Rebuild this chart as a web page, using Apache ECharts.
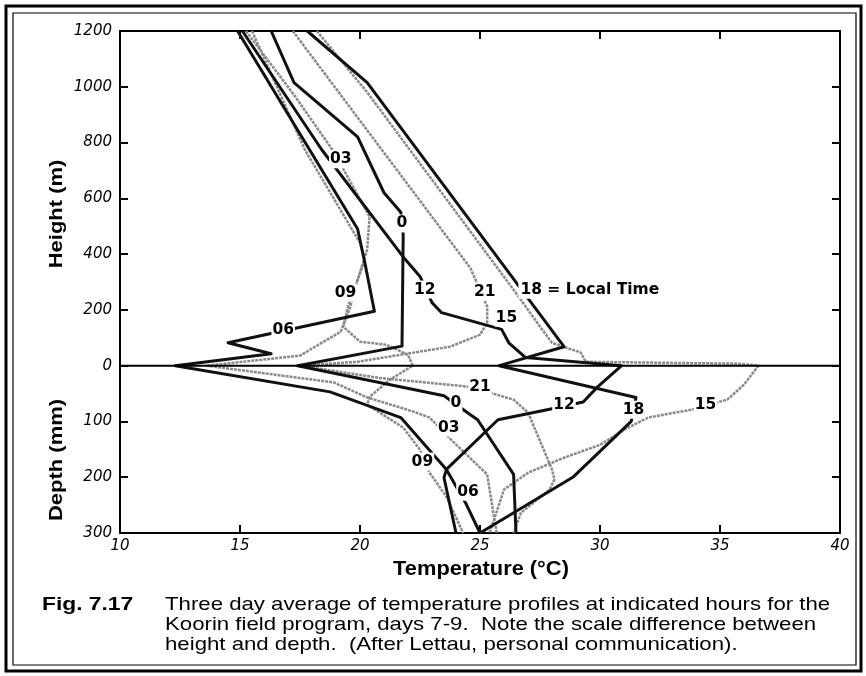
<!DOCTYPE html>
<html><head><meta charset="utf-8">
<script src="https://cdn.jsdelivr.net/npm/echarts@6/dist/echarts.min.js"></script>
<style>html,body{margin:0;padding:0;background:#fff}#c{width:866px;height:676px}</style>
</head><body><div id="c"></div><script>
// Temperature profiles (°C) by local hour.
// Air: [temperature, height m]; soil: [temperature, depth mm].
const air00 = [[16.3,1200],[17.25,1015],[19.9,820],[21.0,620],[21.7,550],[21.8,470],[21.75,70],[17.4,0]];
const soil00 = [[17.4,0],[23.5,54],[24.6,88],[24.9,97],[26.4,195],[26.5,300]];
const air06 = [[14.9,1200],[19.9,490],[20.2,370],[20.6,195],[14.5,82],[16.3,43],[12.3,0]];
const soil06 = [[12.3,0],[18.75,47],[21.7,93],[23.6,186],[24.4,246],[25.0,300]];
const air12 = [[15.1,1200],[18.4,775],[21.8,390],[22.5,320],[23.0,226],[23.4,190],[25.9,130],[26.2,82],[26.9,29],[30.9,0]];
const soil12 = [[30.9,0],[29.9,38],[29.3,65],[27.8,79],[25.75,97],[23.6,186],[23.5,201],[24.0,300]];
const air18 = [[17.8,1200],[20.3,1015],[28.5,68],[25.8,0]];
const soil18 = [[25.8,0],[31.5,57],[31.3,100],[28.9,199],[25.0,300]];
const air03 = [[15.25,1200],[17.3,965],[18.9,768],[20.4,534],[20.3,416],[19.9,308],[19.6,212],[19.2,122],[17.5,36],[13.6,0]];
const soil03 = [[13.6,0],[18.9,30],[20.3,57],[22.2,82],[22.9,93],[23.8,133],[25.3,195],[25.6,276],[25.7,300]];
const air09 = [[15.5,1200],[17.7,775],[20.0,440],[20.2,380],[19.5,212],[19.3,140],[20.0,86],[21.1,75],[22.0,39],[22.2,0]];
const soil09 = [[22.2,0],[21.25,25],[20.4,56],[20.3,70],[21.8,111],[22.5,151],[22.9,192],[23.6,235],[24.3,300]];
const air15 = [[18.2,1200],[20.3,980],[26.4,272],[26.9,212],[27.5,140],[28.0,82],[29.2,47],[29.4,14],[35.8,7],[36.6,0]];
const soil15 = [[36.6,0],[36.0,34],[35.3,61],[33.8,79],[32.0,93],[31.0,115],[30.0,142],[28.5,165],[27.0,192],[26.0,222],[25.4,300]];
const air21 = [[17.2,1200],[24.6,350],[25.3,212],[25.3,154],[25.0,111],[23.75,68],[19.9,14],[17.5,0]];
const soil21 = [[17.5,0],[20.8,22],[24.6,38],[26.4,61],[27.0,84],[27.6,145],[28.0,186],[28.1,204],[27.9,222],[26.7,264],[26.4,300]];

// Hour labels placed on the curves: [text, temperature, height m] / [text, temperature, depth mm]
const airLabels = [['03',19.2,740],['0',21.75,510],['09',19.4,262],['12',22.7,273],['21',25.2,265],['15',26.1,172],['06',16.8,129]];
const soilLabels = [['21',25.0,39],['0',24.0,66],['12',28.5,70],['18',31.4,79],['15',34.4,70],['03',23.7,111],['09',22.6,172],['06',24.5,226]];
const keyLabel = ['18 = Local Time', 26.6, 272];

const xTicks = {min: 10, max: 40, step: 5};
const heightTicks = {min: 0, max: 1200, step: 200};
const depthTicks = {min: 0, max: 300, step: 100};

// One vertical axis: heights in metres above 0, depth drawn at 2 units per mm below 0.
const DEPTH_SCALE = 2;
const toAxis = (p) => [p[0], p[1]];
const soilToAxis = (p) => [p[0], -p[1] * DEPTH_SCALE];

const FONT = 'Liberation Sans, Arial, Helvetica, sans-serif';
const WIDE = 'DejaVu Sans, Verdana, sans-serif';
const BLACK = '#111';
const GREY = '#8a8a8a';

function profile(name, air, soil, lineStyle, z) {
  return {
    name, type: 'line', z,
    data: air.map(toAxis).concat(soil.slice(1).map(soilToAxis)),
    symbol: 'none', smooth: false, silent: true,
    lineStyle: Object.assign({cap: 'butt', join: 'round'}, lineStyle)
  };
}
const solid = {color: BLACK, width: 3};
const speckled = {color: GREY, width: 2.5, type: [3, 1]};

const labelStyle = {
  show: true, position: 'inside', color: '#000', opacity: 1, fontFamily: WIDE,
  fontWeight: 'bold', fontSize: 15.5, backgroundColor: '#fff', padding: [1, 1],
  formatter: (p) => p.data.text
};

const labelData = airLabels.map(l => ({value: [l[1], l[2]], text: l[0]}))
  .concat(soilLabels.map(l => ({value: soilToAxis([l[1], l[2]]), text: l[0]})))
  .concat([{value: [keyLabel[1], keyLabel[2]], text: keyLabel[0], label: {align: 'left', padding: [1, 2]}}]);

const axisLine = {show: true, onZero: false, lineStyle: {color: '#000', width: 2}};
const axisTick = {show: true, inside: true, length: 8, lineStyle: {color: '#000', width: 2}};
const tickFont = {fontFamily: WIDE, fontStyle: 'italic', fontSize: 15, color: '#000'};

const yMin = -depthTicks.max * DEPTH_SCALE;

// widened caption text
function caption(text, x, y, size, bold, align, scaleX) {
  return {type: 'text', x, y, silent: true, scaleX: scaleX || 1.2,
    style: {text, fontFamily: FONT, fontWeight: bold ? 'bold' : 'normal', fontSize: size, fill: '#000',
            align: align || 'left', verticalAlign: 'middle'}};
}
// rotated axis title, stretched along its length
function sideTitle(text, y) {
  return {type: 'text', x: 57, y, rotation: Math.PI / 2, silent: true, scaleX: 1.22,
    style: {text, fontFamily: FONT, fontWeight: 'bold', fontSize: 18, fill: '#000', align: 'center', verticalAlign: 'middle'}};
}

const chart = echarts.init(document.getElementById('c'), null, {renderer: 'canvas'});
chart.setOption({
  backgroundColor: '#fff',
  animation: false,
  grid: {left: 120, top: 31, right: 26, bottom: 143},
  xAxis: [
    {type: 'value', min: xTicks.min, max: xTicks.max, interval: xTicks.step, position: 'bottom',
     axisLine, axisTick, splitLine: {show: false},
     axisLabel: Object.assign({margin: 6}, tickFont)},
    {type: 'value', min: xTicks.min, max: xTicks.max, interval: xTicks.step, position: 'top',
     axisLine, axisTick, splitLine: {show: false}, axisLabel: {show: false}}
  ],
  yAxis: [
    {type: 'value', min: yMin, max: heightTicks.max, interval: heightTicks.step, position: 'left',
     axisLine, axisTick, splitLine: {show: false},
     axisLabel: Object.assign({margin: 8, formatter: (v) => v >= 0 ? String(v) : String(-v / DEPTH_SCALE)}, tickFont)},
    {type: 'value', min: yMin, max: heightTicks.max, interval: heightTicks.step, position: 'right',
     axisLine, axisTick, splitLine: {show: false}, axisLabel: {show: false}}
  ],
  series: [
    {type: 'line', z: 4, data: [[xTicks.min, 0], [xTicks.max, 0]], symbol: 'none', silent: true,
     lineStyle: {color: '#000', width: 2}},
    profile('03', air03, soil03, speckled, 2),
    profile('09', air09, soil09, speckled, 2),
    profile('15', air15, soil15, speckled, 2),
    profile('21', air21, soil21, speckled, 2),
    profile('0', air00, soil00, solid, 3),
    profile('06', air06, soil06, solid, 3),
    profile('12', air12, soil12, solid, 3),
    profile('18', air18, soil18, solid, 3),
    {type: 'scatter', z: 6, symbolSize: 0, silent: true, data: labelData,
     itemStyle: {opacity: 1}, label: labelStyle}
  ],
  graphic: [
    // double frame around the figure
    {type: 'rect', shape: {x: 6, y: 6, width: 855, height: 665}, style: {fill: 'none', stroke: '#000', lineWidth: 3}, silent: true},
    {type: 'rect', shape: {x: 13, y: 13, width: 843, height: 652}, style: {fill: 'none', stroke: '#000', lineWidth: 1.2}, silent: true},
    sideTitle('Height (m)', 214),
    sideTitle('Depth (mm)', 460),
    caption('Temperature (°C)', 481, 570, 19.5, true, 'center', 1.12),
    caption('Fig. 7.17', 42, 605, 19, true),
    caption('Three day average of temperature profiles at indicated hours for the', 165, 605, 18.5, false),
    caption('Koorin field program, days 7-9.  Note the scale difference between', 165, 625, 18.5, false),
    caption('height and depth.  (After Lettau, personal communication).', 165, 645, 18.5, false)
  ]
});
</script></body></html>
